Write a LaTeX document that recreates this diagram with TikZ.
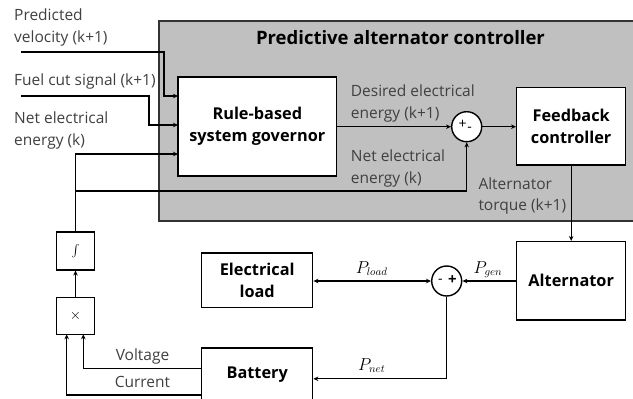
\documentclass[tikz,border=0pt]{standalone}
\usepackage{amsmath}
\usepackage{fontspec}
\setmainfont{Open Sans}
\usetikzlibrary{arrows.meta}
\definecolor{panel}{RGB}{192,192,192}
\definecolor{txt}{RGB}{64,64,64}
\tikzset{
  blk/.style={draw=black, line width=1.4pt, fill=white, align=center, inner sep=0pt,
    font=\fontsize{16.3}{22}\selectfont\bfseries},
  sumnode/.style={draw=black, line width=1.4pt, fill=white, circle, minimum size=30pt, inner sep=0pt},
  lbl/.style={text=txt, inner sep=0pt, font=\fontsize{15.5}{18}\selectfont},
  mlbl/.style={text=black, inner sep=0pt, font=\fontsize{16}{17}\selectfont},
  wire/.style={line width=1.2pt},
  arr/.style={wire, -{Stealth[length=5pt,width=4.5pt]}},
  darr/.style={wire, {Stealth[length=5pt,width=4.5pt]}-{Stealth[length=5pt,width=4.5pt]}}
}
\begin{document}
\begin{tikzpicture}[x=1pt,y=-1pt]
\clip (0,0) rectangle (633,399);
\useasboundingbox (0,0) rectangle (633,399);
% panel
\node[draw=black!80, line width=1.5pt, fill=panel, minimum width=475pt, minimum height=200pt, inner sep=0pt, anchor=north west] (panel) at (158,20) {};
\node[inner sep=0pt, anchor=base, font=\fontsize{18.5}{22}\selectfont\bfseries] (title) at (400.5,44) {Predictive alternator controller};
% blocks
\node[blk, minimum width=158.7pt, minimum height=99pt] (gov) at (257.3,126.5) {Rule-based\\system governor};
\node[blk, minimum width=109pt, minimum height=77.3pt] (fb) at (571.2,126.3) {Feedback\\controller};
\node[blk, minimum width=109pt, minimum height=78.3pt] (alt) at (571.2,280.8) {Alternator};
\node[blk, minimum width=111pt, minimum height=54.7pt] (load) at (257.2,280.3) {Electrical\\load};
\node[blk, minimum width=111pt, minimum height=62pt] (bat) at (257.2,378.8) {};
\node[inner sep=0pt, font=\fontsize{16.3}{20}\selectfont\bfseries] (battxt) at (257.2,375) {Battery};
\node[blk, minimum width=37.6pt, minimum height=37.7pt, font=\fontsize{11.5}{14}\selectfont] (int) at (75.5,251) {$\int$};
\node[blk, minimum width=37.6pt, minimum height=37pt, font=\fontsize{14}{17}\selectfont\mdseries] (mul) at (75.5,315.8) {$\times$};
% sums
\node[sumnode] (s1) at (466.7,126.7) {};
\node[inner sep=0pt, font=\fontsize{14}{16}\selectfont] (s1p) at (462.5,124.5) {+};
\node[inner sep=0pt, font=\fontsize{14}{16}\selectfont] (s1m) at (469.5,129.5) {-};
\node[sumnode] (s2) at (446.7,281) {};
\node[inner sep=0pt, font=\fontsize{14}{16}\selectfont] (s2m) at (440.5,281) {-};
\node[inner sep=0pt, font=\fontsize{15}{16}\selectfont\bfseries] (s2p) at (452.5,280.5) {+};
% coordinates
\coordinate (vs) at (21,52);
\coordinate (v1) at (164,52);
\coordinate (v2) at (164,96);
\coordinate (fs) at (21,96);
\coordinate (f1) at (149,96);
\coordinate (f2) at (149,125);
\coordinate (gin1) at (178,96);
\coordinate (gin2) at (178,125);
\coordinate (gin3) at (178,154);
\coordinate (jn) at (75.5,191);
\coordinate (vin) at (83.3,334.3);
\coordinate (cin) at (66.7,334.3);
\coordinate (vout) at (201.7,368.3);
\coordinate (cout) at (201.7,395);
% wires
\draw[arr] (vs) -- (v1) -- (v2) -- (gin1);
\draw[arr] (fs) -- (f1) -- (f2) -- (gin2);
\draw[arr] (int.north) |- (gin3);
\draw[arr] (jn) -| (s1.south);
\draw[arr] (gov.east |- s1) -- (s1.west);
\draw[arr] (s1.east) -- (fb.west |- s1);
\draw[arr] (fb.south) -- (alt.north);
\draw[arr] (alt.west |- s2) -- (s2.east);
\draw[darr] (load.east |- s2) -- (s2.west);
\draw[arr] (s2.south) |- (bat.east);
\draw[arr] (mul.north) -- (int.south);
\draw[arr] (vout) -| (vin);
\draw[arr] (cout) -| (cin);
% labels
\node[lbl, anchor=base west] (l1) at (14,20.7) {Predicted};
\node[lbl, anchor=base west] (l2) at (14,42.7) {velocity (k+1)};
\node[lbl, anchor=base west] (l3) at (14,85.7) {Fuel cut signal (k+1)};
\node[lbl, anchor=base west] (l4) at (14,123) {Net electrical};
\node[lbl, anchor=base west] (l5) at (14,145) {energy (k)};
\node[lbl, anchor=base west] (l6) at (350.7,96.7) {Desired electrical};
\node[lbl, anchor=base west] (l7) at (350.7,118) {energy (k+1)};
\node[lbl, anchor=base west] (l8) at (350.7,161.7) {Net electrical};
\node[lbl, anchor=base west] (l9) at (350.7,183) {energy (k)};
\node[lbl, anchor=base west] (l10) at (478.3,189) {Alternator};
\node[lbl, anchor=base west] (l11) at (478.3,210) {torque (k+1)};
\node[lbl, anchor=base] (l12) at (142.5,360) {Voltage};
\node[lbl, anchor=base] (l13) at (142.5,387) {Current};
\node[mlbl, anchor=base] (pl) at (371.7,273) {$P_{load}$};
\node[mlbl, anchor=base] (pg) at (488,273) {$P_{gen}$};
\node[mlbl, anchor=base] (pn) at (371.7,370) {$P_{net}$};
\end{tikzpicture}
\end{document}
